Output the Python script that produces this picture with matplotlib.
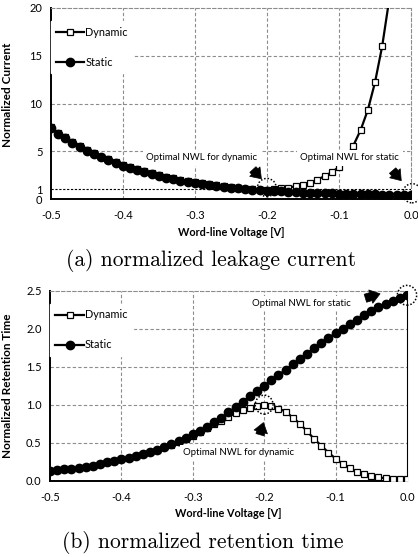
import matplotlib
matplotlib.use("Agg")
import matplotlib.pyplot as plt
from matplotlib.patches import Ellipse

plt.rcParams['font.family'] = ['Lato', 'DejaVu Sans']

# ---------------- data ----------------
voltage = [-0.50, -0.49, -0.48, -0.47, -0.46, -0.45, -0.44, -0.43, -0.42, -0.41,
           -0.40, -0.39, -0.38, -0.37, -0.36, -0.35, -0.34, -0.33, -0.32, -0.31,
           -0.30, -0.29, -0.28, -0.27, -0.26, -0.25, -0.24, -0.23, -0.22, -0.21,
           -0.20, -0.19, -0.18, -0.17, -0.16, -0.15, -0.14, -0.13, -0.12, -0.11,
           -0.10, -0.09, -0.08, -0.07, -0.06, -0.05, -0.04, -0.03, -0.02, -0.01,
           0.00]

current_static = [7.40, 6.85, 6.35, 5.90, 5.45, 5.05, 4.70, 4.35, 4.05, 3.75,
                  3.50, 3.25, 3.02, 2.80, 2.60, 2.42, 2.25, 2.08, 1.93, 1.80,
                  1.65, 1.54, 1.44, 1.35, 1.27, 1.19, 1.12, 1.05, 0.99, 0.93,
                  0.88, 0.83, 0.79, 0.75, 0.71, 0.68, 0.65, 0.62, 0.60, 0.58,
                  0.56, 0.54, 0.52, 0.50, 0.49, 0.48, 0.47, 0.46, 0.45, 0.44,
                  0.43]

current_dynamic = [7.50, 6.95, 6.45, 6.00, 5.55, 5.15, 4.80, 4.45, 4.15, 3.85,
                   3.60, 3.35, 3.12, 2.90, 2.70, 2.52, 2.35, 2.18, 2.03, 1.90,
                   1.75, 1.63, 1.52, 1.42, 1.33, 1.24, 1.16, 1.09, 1.03, 0.98,
                   0.95, 1.00, 1.10, 1.20, 1.33, 1.50, 1.72, 2.02, 2.40, 2.80,
                   3.35, 4.30, 5.60, 7.20, 9.30, 12.20, 16.00, 21.00, 28.00, 37.00,
                   48.00]

retention_static = [0.13, 0.14, 0.15, 0.16, 0.17, 0.18, 0.20, 0.22, 0.24, 0.26,
                    0.28, 0.30, 0.32, 0.35, 0.38, 0.41, 0.44, 0.48, 0.52, 0.56,
                    0.61, 0.66, 0.71, 0.77, 0.83, 0.90, 0.97, 1.04, 1.11, 1.18,
                    1.25, 1.32, 1.39, 1.46, 1.53, 1.60, 1.67, 1.74, 1.81, 1.88,
                    1.94, 2.00, 2.06, 2.12, 2.18, 2.23, 2.28, 2.33, 2.37, 2.41,
                    2.44]

retention_dynamic = [0.13, 0.14, 0.15, 0.16, 0.17, 0.18, 0.20, 0.22, 0.24, 0.26,
                     0.28, 0.30, 0.32, 0.35, 0.38, 0.41, 0.44, 0.47, 0.51, 0.55,
                     0.59, 0.64, 0.69, 0.74, 0.79, 0.84, 0.89, 0.93, 0.96, 0.98,
                     0.99, 0.98, 0.95, 0.91, 0.83, 0.75, 0.65, 0.55, 0.46, 0.37,
                     0.29, 0.22, 0.165, 0.12, 0.085, 0.062, 0.045, 0.032, 0.024, 0.020,
                     0.018]

xticks = [-0.5, -0.4, -0.3, -0.2, -0.1, 0.0]
xtick_labels = ['-0.5', '-0.4', '-0.3', '-0.2', '-0.1', '0.0']
yticks_a = [0, 1, 5, 10, 15, 20]
yticks_b = [0.0, 0.5, 1.0, 1.5, 2.0, 2.5]
ytick_labels_b = ['0.0', '0.5', '1.0', '1.5', '2.0', '2.5']

# ---------------- figure ----------------
fig = plt.figure(figsize=(4.18, 5.57), dpi=100)
W, H = 418.0, 557.0
ax1 = fig.add_axes([50.7 / W, 1 - 199 / H, (411 - 50.7) / W, 191 / H])
ax2 = fig.add_axes([50 / W, 1 - 480.7 / H, 357 / W, 190 / H])

grid_kw = dict(color='#8c8c8c', linestyle=(0, (3, 2)), linewidth=0.8)


def style_axes(ax):
    ax.set_xlim(-0.5, 0.0)
    ax.set_xticks(xticks)
    ax.set_xticklabels(xtick_labels)
    ax.tick_params(length=0, labelsize=8)
    ax.tick_params(axis='x', pad=8)
    ax.tick_params(axis='y', pad=6)
    for s in ['left', 'bottom']:
        ax.spines[s].set_linewidth(1.4)
        ax.spines[s].set_color('black')
    for s in ['top', 'right']:
        ax.spines[s].set_color('#8c8c8c')
        ax.spines[s].set_linestyle((0, (3, 2)))
        ax.spines[s].set_linewidth(0.8)
    ax.set_axisbelow(True)
    ax.set_xlabel('Word-line Voltage [V]', fontsize=7.8, fontweight='bold', labelpad=4)


line_kw_dyn = dict(color='black', linewidth=1.6, marker='s', markersize=4.8,
                   markerfacecolor='white', markeredgecolor='black',
                   markeredgewidth=0.9, zorder=3, label='Dynamic')
line_kw_sta = dict(color='black', linewidth=1.6, marker='o', markersize=6,
                   markerfacecolor='black', markeredgecolor='black',
                   zorder=4, label='Static')

legend_kw = dict(loc='upper left', bbox_to_anchor=(0.0, 0.93), fontsize=7.8,
                 frameon=True, fancybox=False, edgecolor='white', framealpha=1,
                 handlelength=2.6, handletextpad=0.1, labelspacing=1.75,
                 borderpad=0.5, borderaxespad=0.0)

# ---- (a) leakage current ----
style_axes(ax1)
ax1.set_ylim(0, 20)
ax1.set_yticks(yticks_a)
ax1.set_yticklabels([str(t) for t in yticks_a])
for yv in [5, 10, 15]:
    ax1.axhline(yv, **grid_kw, zorder=0)
for xv in [-0.4, -0.3, -0.2, -0.1]:
    ax1.axvline(xv, **grid_kw, zorder=0)
ax1.axhline(1, color='black', linestyle=(0, (2, 1.5)), linewidth=0.8, zorder=1)
ax1.plot(voltage, current_dynamic, **line_kw_dyn)
ax1.plot(voltage, current_static, **line_kw_sta)
ax1.set_ylabel('Normalized Current', fontsize=8.5, fontweight='bold')
ax1.yaxis.set_label_coords(-0.105, 0.545)

leg1 = ax1.legend(**legend_kw)
leg1.set_zorder(6)

box_kw = dict(boxstyle='square,pad=0.35', fc='white', ec='none')
ax1.text(-0.29, 4.3, 'Optimal NWL for dynamic', fontsize=6.9, ha='center',
         va='center', bbox=box_kw, zorder=5)
ax1.text(-0.085, 4.3, 'Optimal NWL for static', fontsize=6.9, ha='center',
         va='center', bbox=box_kw, zorder=5)
arrow_kw = dict(arrowstyle='simple,head_length=0.7,head_width=1.0,tail_width=0.6',
                fc='black', ec='black', lw=0.5)
ax1.annotate('', xy=(-0.205, 1.9), xytext=(-0.222, 3.3), arrowprops=arrow_kw,
             zorder=6)
ax1.annotate('', xy=(-0.011, 1.7), xytext=(-0.028, 3.2), arrowprops=arrow_kw,
             zorder=6)
ax1.add_patch(Ellipse((-0.2, 1.2), 0.026, 1.9, fill=False, ec='black',
                      ls=(0, (1, 1.2)), lw=1.1, clip_on=False, zorder=7))
ax1.add_patch(Ellipse((0.0015, 0.6), 0.026, 2.0, fill=False, ec='black',
                      ls=(0, (1, 1.2)), lw=1.1, clip_on=False, zorder=7))

# ---- (b) retention time ----
style_axes(ax2)
ax2.set_ylim(0, 2.5)
ax2.set_yticks(yticks_b)
ax2.set_yticklabels(ytick_labels_b)
for yv in [0.5, 1.0, 1.5, 2.0]:
    ax2.axhline(yv, **grid_kw, zorder=0)
for xv in [-0.4, -0.3, -0.2, -0.1]:
    ax2.axvline(xv, **grid_kw, zorder=0)
ax2.spines['right'].set_color('black')
ax2.spines['right'].set_linestyle('-')
ax2.spines['right'].set_linewidth(0.8)
ax2.plot(voltage, retention_dynamic, **line_kw_dyn)
ax2.plot(voltage, retention_static, **line_kw_sta)
ax2.set_ylabel('Normalized Retention Time', fontsize=8.5, fontweight='bold')
ax2.yaxis.set_label_coords(-0.105, 0.5)

leg2 = ax2.legend(**legend_kw)
leg2.set_zorder(6)

ax2.text(-0.148, 2.33, 'Optimal NWL for static', fontsize=6.9, ha='center',
         va='center', bbox=box_kw, zorder=5)
ax2.text(-0.236, 0.37, 'Optimal NWL for dynamic', fontsize=6.9, ha='center',
         va='center', bbox=box_kw, zorder=5)
ax2.annotate('', xy=(-0.034, 2.47), xytext=(-0.062, 2.39), arrowprops=arrow_kw,
             zorder=6)
ax2.annotate('', xy=(-0.2, 0.8), xytext=(-0.207, 0.57), arrowprops=arrow_kw,
             zorder=6)
ax2.add_patch(Ellipse((-0.2, 1.0), 0.025, 0.25, fill=False, ec='black',
                      ls=(0, (1, 1.2)), lw=1.1, clip_on=False, zorder=7))
ax2.add_patch(Ellipse((0.0, 2.44), 0.027, 0.26, fill=False, ec='black',
                      ls=(0, (1, 1.2)), lw=1.1, clip_on=False, zorder=7))

# captions
fig.text(0.505, 1 - 260 / H, '(a) normalized leakage current', family='cmr10',
         fontsize=15.5, ha='center', va='center')
fig.text(0.484, 1 - 543 / H, '(b) normalized retention time', family='cmr10',
         fontsize=15.5, ha='center', va='center')

fig.savefig('out.png', dpi=100)
